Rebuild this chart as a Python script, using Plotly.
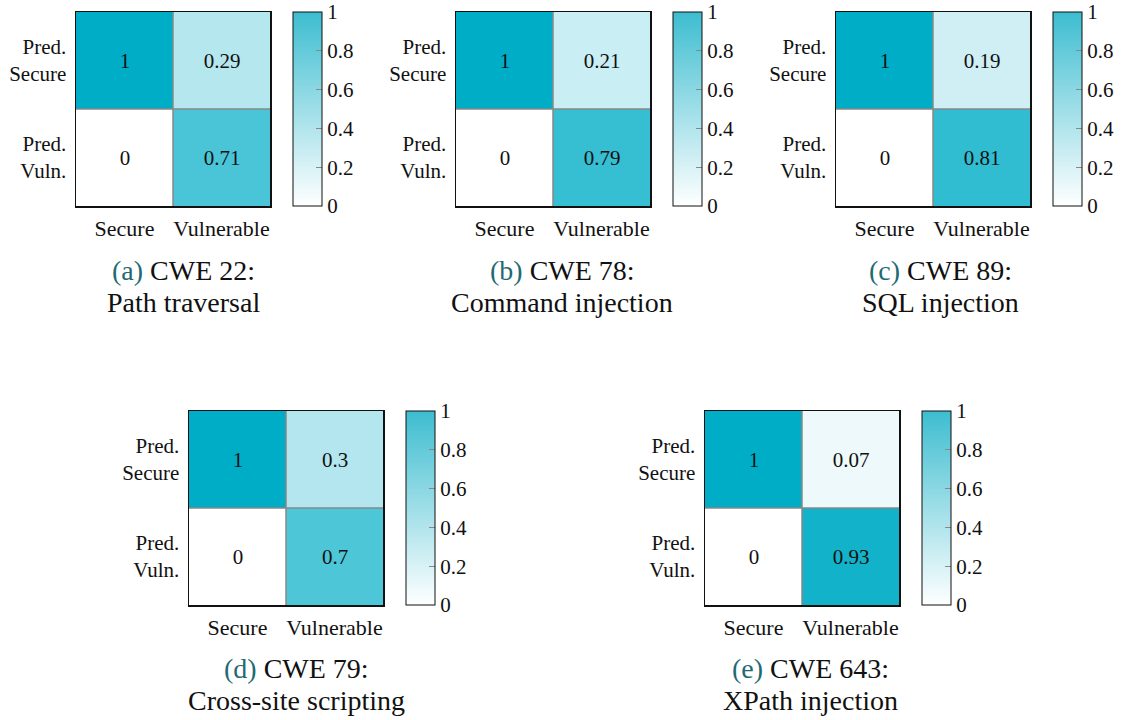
import plotly.graph_objects as go

# ---- data ----
x_labels = ["Secure", "Vulnerable"]
y_labels = ["Pred.<br>Secure", "Pred.<br>Vuln."]
panel_letters = ["a", "b", "c", "d", "e"]
cwe_ids = ["22", "78", "89", "79", "643"]
cwe_names = ["Path traversal", "Command injection", "SQL injection",
             "Cross-site scripting", "XPath injection"]
secure_col = [[1, 0], [1, 0], [1, 0], [1, 0], [1, 0]]
vulnerable_col = [[0.29, 0.71], [0.21, 0.79], [0.19, 0.81], [0.3, 0.7], [0.07, 0.93]]
cbar_ticks = [0, 0.2, 0.4, 0.6, 0.8, 1]

# ---- layout (pixels) ----
W, H = 1121, 720
hm_left = [76, 456, 836, 189, 705]
hm_top = [12, 12, 12, 411, 411]
SZ = 194
cap_center_x = [183, 562, 941, 296, 810]
cap_line1_y = [270, 270, 270, 668, 668]
cap_line2_y = [302, 302, 302, 700, 700]

FONT = "Liberation Serif"
cell_scale = [[0, "#ffffff"], [1, "#00adc6"]]
bar_scale = [[0, "#ffffff"], [1, "#3dbdd0"]]


def px(xp):
    return xp / W


def py(yp):
    return 1 - yp / H


fig = go.Figure()
layout = {}
shapes = []
annotations = []

for i in range(5):
    n = "" if i == 0 else str(i + 1)
    xa, ya = "x" + n, "y" + n
    z = [[secure_col[i][0], vulnerable_col[i][0]],
         [secure_col[i][1], vulnerable_col[i][1]]]
    x0 = px(hm_left[i])
    x1 = px(hm_left[i] + SZ)
    y1 = py(hm_top[i])
    y0 = py(hm_top[i] + SZ)
    fig.add_trace(go.Heatmap(
        z=z, x=x_labels, y=y_labels, xaxis=xa, yaxis=ya,
        zmin=0, zmax=1, colorscale=cell_scale, showscale=False,
        texttemplate="%{z}", textfont=dict(family=FONT, size=21, color="#111111"),
        hoverinfo="skip",
    ))
    cb_left = px(hm_left[i] + SZ + 23)
    fig.add_trace(go.Heatmap(
        z=z, x=x_labels, y=y_labels, xaxis=xa, yaxis=ya,
        zmin=0, zmax=1, colorscale=bar_scale, opacity=0, showscale=True,
        hoverinfo="skip",
        colorbar=dict(
            x=cb_left, xanchor="left", xpad=0,
            y=y1, yanchor="top", ypad=0,
            len=SZ, lenmode="pixels", thickness=29, thicknessmode="pixels",
            outlinecolor="#111111", outlinewidth=1,
            tickmode="array", tickvals=cbar_ticks,
            ticktext=[f"{v:g}" for v in cbar_ticks],
            ticks="inside", ticklen=6, tickcolor="#888888",
            ticklabeloverflow="allow",
            tickfont=dict(family=FONT, size=21, color="#111111"),
        ),
    ))
    layout["xaxis" + n] = dict(
        domain=[x0, x1], anchor=ya, showline=True, mirror=True,
        linecolor="#111111", linewidth=1.5, ticks="", showgrid=False,
        zeroline=False, tickfont=dict(family=FONT, size=22, color="#111111"),
        ticklabelstandoff=2, fixedrange=True,
    )
    layout["yaxis" + n] = dict(
        domain=[y0, y1], anchor=xa, showline=True, mirror=True,
        linecolor="#111111", linewidth=1.5, ticks="", showgrid=False,
        zeroline=False, autorange="reversed", ticklabelstandoff=4,
        tickfont=dict(family=FONT, size=21, color="#111111"),
        fixedrange=True,
    )
    shapes.append(dict(type="line", xref=xa + " domain", yref=ya + " domain",
                       x0=0.5, x1=0.5, y0=0, y1=1,
                       line=dict(color="#888888", width=1.5), layer="above"))
    shapes.append(dict(type="line", xref=xa + " domain", yref=ya + " domain",
                       x0=0, x1=1, y0=0.5, y1=0.5,
                       line=dict(color="#888888", width=1.5), layer="above"))
    annotations.append(dict(
        x=px(cap_center_x[i]), y=py(cap_line1_y[i]), xref="paper", yref="paper",
        xanchor="center", yanchor="middle", showarrow=False,
        text=f"<span style='color:#1f6a74'>({panel_letters[i]})</span> CWE {cwe_ids[i]}:",
        font=dict(family=FONT, size=28, color="#111111"),
    ))
    annotations.append(dict(
        x=px(cap_center_x[i]), y=py(cap_line2_y[i]), xref="paper", yref="paper",
        xanchor="center", yanchor="middle", showarrow=False,
        text=cwe_names[i],
        font=dict(family=FONT, size=28, color="#111111"),
    ))

fig.update_layout(
    width=W, height=H, margin=dict(l=0, r=0, t=0, b=0),
    paper_bgcolor="white", plot_bgcolor="white",
    shapes=shapes, annotations=annotations, showlegend=False,
    **layout,
)
fig.write_html(
    "out.html",
    config={"displayModeBar": False, "staticPlot": True},
    post_script="document.body.style.margin='0';document.body.style.overflow='hidden';",
)
